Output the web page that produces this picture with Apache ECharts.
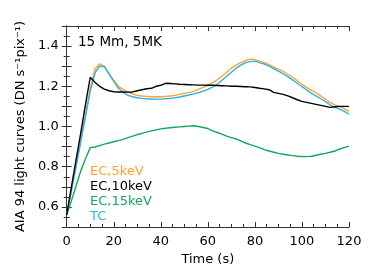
<!DOCTYPE html>
<html>
<head>
<meta charset="utf-8">
<script src="https://cdn.jsdelivr.net/npm/echarts@6/dist/echarts.min.js"></script>
<style>html,body{margin:0;padding:0;background:#fff}#c{width:374px;height:280px}</style>
</head>
<body>
<div id="c"></div>
<script>
var time = [0,2,4,6,8,10,12,14,16,18,20,22,24,26,28,30,32,34,36,38,40,42,44,46,48,50,52,54,56,58,60,62,64,66,68,70,72,74,76,78,80,82,84,86,88,90,92,94,96,98,100,102,104,106,108,110,112,114,116,118,120];
var ec5 = [0.56,0.685,0.81,0.935,1.06,1.19,1.285,1.312,1.30,1.26,1.23,1.20,1.185,1.172,1.162,1.155,1.152,1.15,1.148,1.148,1.148,1.15,1.152,1.155,1.16,1.165,1.17,1.175,1.185,1.195,1.205,1.218,1.232,1.25,1.27,1.29,1.305,1.318,1.328,1.335,1.333,1.325,1.318,1.308,1.295,1.285,1.275,1.26,1.245,1.228,1.21,1.195,1.18,1.168,1.152,1.135,1.12,1.108,1.1,1.088,1.075];
var ec10 = [0.56,0.70,0.835,0.97,1.11,1.245,1.22,1.20,1.186,1.178,1.173,1.172,1.172,1.171,1.172,1.178,1.183,1.188,1.19,1.20,1.205,1.215,1.214,1.212,1.21,1.209,1.208,1.207,1.206,1.206,1.205,1.205,1.204,1.203,1.202,1.20,1.20,1.199,1.198,1.197,1.194,1.19,1.187,1.183,1.17,1.165,1.16,1.152,1.143,1.133,1.125,1.12,1.115,1.11,1.105,1.10,1.095,1.098,1.10,1.10,1.10];
var ec15 = [0.56,0.63,0.705,0.78,0.84,0.895,0.898,0.905,0.912,0.918,0.924,0.93,0.936,0.945,0.952,0.96,0.966,0.972,0.978,0.983,0.988,0.991,0.994,0.996,0.998,1.0,1.002,1.004,1.0,0.995,0.99,0.978,0.97,0.962,0.952,0.945,0.938,0.928,0.918,0.91,0.902,0.895,0.885,0.878,0.872,0.866,0.862,0.858,0.855,0.852,0.851,0.85,0.852,0.857,0.862,0.866,0.872,0.878,0.888,0.895,0.902];
var tc = [0.56,0.68,0.80,0.925,1.05,1.175,1.265,1.30,1.298,1.262,1.225,1.19,1.17,1.155,1.148,1.143,1.14,1.138,1.137,1.136,1.136,1.138,1.14,1.143,1.147,1.152,1.157,1.162,1.168,1.176,1.185,1.196,1.21,1.23,1.25,1.27,1.29,1.305,1.318,1.323,1.325,1.318,1.31,1.30,1.288,1.275,1.263,1.248,1.232,1.215,1.198,1.182,1.165,1.152,1.138,1.123,1.108,1.095,1.087,1.075,1.062];
var seriesNames = ['EC,5keV','EC,10keV','EC,15keV','TC'];
var seriesColors = ['#ffa22e','#000000','#14a85a','#2ab3ea'];
var xTicks = [0,20,40,60,80,100,120];
var yTickLabels = [0.6,0.8,1.0,1.2,1.4];
var annotation = '15 Mm, 5MK';
var xTitle = 'Time (s)';
var yTitle = 'AIA 94 light curves (DN s\u207B\u00B9pix\u207B\u00B9)';

function pairs(v){ return time.map(function(t,i){ return [t, v[i]]; }); }
var allData = [ec5, ec10, ec15, tc];
var FONT = 'DejaVu Sans';
var axisCol = '#333';

var chart = echarts.init(document.getElementById('c'), null, {renderer:'canvas'});
var common = {
  axisLine:{show:true, lineStyle:{color:axisCol, width:1}},
  splitLine:{show:false}
};
chart.setOption({
  animation:false,
  backgroundColor:'#fff',
  grid:{left:66.7, right:25, top:26, bottom:53, containLabel:false},
  xAxis:[
    Object.assign({type:'value', min:0, max:120, interval:20, position:'bottom',
      axisTick:{inside:true, length:5, lineStyle:{color:axisCol}},
      minorTick:{show:true, splitNumber:4, length:3, lineStyle:{color:axisCol}},
      axisLabel:{color:'#000', fontFamily:FONT, fontSize:13, margin:8,
        formatter:function(v){ return xTicks.indexOf(v)>=0 ? String(v) : ''; }},
      name:xTitle, nameLocation:'middle', nameGap:24,
      nameTextStyle:{color:'#000', fontFamily:FONT, fontSize:13}
    }, common),
    Object.assign({type:'value', min:0, max:120, interval:20, position:'top',
      axisTick:{inside:true, length:5, lineStyle:{color:axisCol}},
      minorTick:{show:true, splitNumber:4, length:3, lineStyle:{color:axisCol}},
      axisLabel:{show:false}}, common)
  ],
  yAxis:[
    Object.assign({type:'value', min:0.5, max:1.5, interval:0.1, position:'left',
      axisTick:{inside:true, length:5, lineStyle:{color:axisCol}},
      minorTick:{show:true, splitNumber:2, length:3, lineStyle:{color:axisCol}},
      axisLabel:{color:'#000', fontFamily:FONT, fontSize:13, margin:8,
        formatter:function(v){
          var r = Math.round(v*10)/10;
          for (var i=0;i<yTickLabels.length;i++){ if (Math.abs(yTickLabels[i]-r)<1e-6) return r.toFixed(1); }
          return '';
        }},
      name:yTitle, nameLocation:'middle', nameGap:32, nameRotate:90,
      nameTextStyle:{color:'#000', fontFamily:FONT, fontSize:13}
    }, common),
    Object.assign({type:'value', min:0.5, max:1.5, interval:0.1, position:'right',
      axisTick:{inside:true, length:5, lineStyle:{color:axisCol}},
      minorTick:{show:true, splitNumber:2, length:3, lineStyle:{color:axisCol}},
      axisLabel:{show:false}}, common)
  ],
  legend:{
    orient:'vertical', left:85, top:165, padding:0, itemGap:2,
    itemWidth:0, itemHeight:13, icon:'none', selectedMode:false,
    textStyle:{fontFamily:FONT, fontSize:13},
    data: seriesNames.map(function(n,i){ return {name:n, textStyle:{color:seriesColors[i]}}; })
  },
  graphic:[{
    type:'text', left:78, top:35,
    style:{text:annotation, fill:'#000', font:'13.5px "DejaVu Sans"'}
  }],
  series: seriesNames.map(function(n,i){
    return {name:n, type:'line', data:pairs(allData[i]), showSymbol:false, symbol:'none',
      lineStyle:{color:seriesColors[i], width:1.4}, itemStyle:{color:seriesColors[i]},
      xAxisIndex:0, yAxisIndex:0, z: i===1 ? 3 : 2};
  })
});
</script>
</body>
</html>
